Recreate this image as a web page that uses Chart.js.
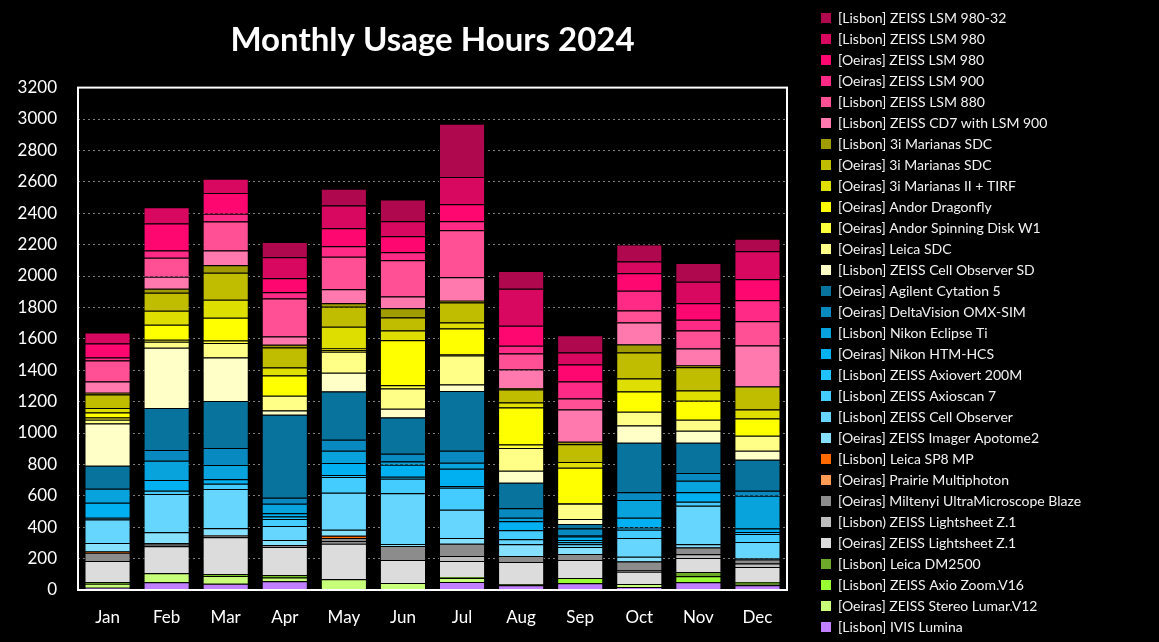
<!DOCTYPE html>
<html lang="en">
<head>
    <meta charset="UTF-8">
    <title>Monthly Usage Hours 2024</title>
    <script src="https://cdn.jsdelivr.net/npm/chart.js"></script>
    <style>
        html, body { margin: 0; padding: 0; background: #000; }
        #wrap { width: 1159px; height: 642px; }
    </style>
</head>
<body>
<div id="wrap"><canvas id="usageChart"></canvas></div>

<script>
    const months = ['Jan', 'Feb', 'Mar', 'Apr', 'May', 'Jun', 'Jul', 'Aug', 'Sep', 'Oct', 'Nov', 'Dec'];

    // hours per month (stack order: top of legend = top of bar)
    const lsm98032Lisbon   = [0, 0, 0, 98, 106, 138, 340, 113, 110, 108, 119, 81];
    const lsm980Lisbon     = [70, 104, 91, 134, 145, 96, 173, 236, 77, 75, 138, 178];
    const lsm980Oeiras     = [89, 172, 132, 89, 115, 102, 108, 128, 108, 111, 105, 134];
    const lsm900Oeiras     = [19, 45, 49, 39, 66, 51, 57, 49, 109, 125, 68, 134];
    const lsm880Lisbon     = [134, 121, 185, 242, 208, 230, 300, 102, 70, 77, 115, 154];
    const cd7Lisbon        = [71, 77, 94, 53, 89, 76, 149, 117, 204, 140, 108, 261];
    const marianasLisbon   = [12, 25, 47, 17, 22, 58, 11, 10, 17, 51, 11, 0];
    const marianasOeiras   = [85, 115, 172, 128, 127, 83, 128, 83, 113, 166, 149, 147];
    const marianas2Oeiras  = [30, 90, 115, 51, 139, 62, 38, 32, 36, 83, 64, 57];
    const dragonflyOeiras  = [32, 95, 145, 128, 10, 287, 164, 236, 225, 128, 121, 109];
    const spinningW1Oeiras = [13, 13, 15, 0, 11, 21, 8, 22, 5, 0, 0, 0];
    const leicaSdcOeiras   = [25, 38, 93, 95, 134, 128, 185, 144, 96, 89, 70, 96];
    const cellObsSdLisbon  = [269, 383, 277, 26, 119, 57, 41, 77, 32, 109, 77, 57];
    const cytationOeiras   = [146, 269, 300, 530, 307, 230, 381, 162, 30, 315, 193, 198];
    const omxSimOeiras     = [0, 68, 108, 38, 70, 49, 76, 61, 40, 49, 49, 32];
    const eclipseLisbon    = [90, 123, 90, 60, 78, 21, 39, 22, 11, 114, 73, 209];
    const htmHcsOeiras     = [95, 68, 29, 21, 77, 77, 110, 57, 21, 62, 61, 21];
    const axiovertLisbon   = [0, 0, 0, 15, 13, 12, 11, 0, 15, 15, 0, 13];
    const axioscanLisbon   = [11, 21, 34, 45, 100, 92, 140, 58, 13, 51, 26, 51];
    const cellObsLisbon    = [149, 243, 249, 89, 236, 326, 179, 32, 17, 121, 245, 102];
    const apotomeOeiras    = [54, 70, 43, 32, 38, 10, 38, 74, 44, 30, 21, 10];
    const sp8MpLisbon      = [8, 0, 0, 0, 13, 0, 0, 0, 0, 0, 0, 0];
    const prairieOeiras    = [0, 0, 0, 0, 0, 0, 0, 0, 0, 0, 0, 0];
    const miltenyiOeiras   = [53, 9, 7, 13, 21, 90, 77, 38, 39, 56, 42, 26];
    const lightsheetLisbon = [0, 10, 8, 0, 17, 0, 32, 0, 0, 8, 24, 21];
    const lightsheetOeiras = [135, 173, 236, 180, 226, 146, 102, 141, 114, 79, 89, 96];
    const dm2500Lisbon     = [0, 0, 0, 0, 0, 0, 0, 0, 0, 0, 28, 0];
    const axioZoomLisbon   = [10, 0, 11, 15, 0, 0, 6, 0, 34, 0, 38, 11];
    const lumarOeiras      = [25, 57, 49, 24, 68, 45, 26, 8, 0, 19, 0, 10];
    const ivisLisbon       = [15, 49, 40, 55, 0, 0, 51, 30, 43, 19, 49, 30];

    const yTicks = [0, 200, 400, 600, 800, 1000, 1200, 1400, 1600, 1800, 2000, 2200, 2400, 2600, 2800, 3000, 3200];

    // bottom of the stack first
    const seriesNames = [
        '[Lisbon] IVIS Lumina',
        '[Oeiras] ZEISS Stereo Lumar.V12',
        '[Lisbon] ZEISS Axio Zoom.V16',
        '[Lisbon] Leica DM2500',
        '[Oeiras] ZEISS Lightsheet Z.1',
        '[Lisbon) ZEISS Lightsheet Z.1',
        '[Oeiras] Miltenyi UltraMicroscope Blaze',
        '[Oeiras] Prairie Multiphoton',
        '[Lisbon] Leica SP8 MP',
        '[Oeiras] ZEISS Imager Apotome2',
        '[Lisbon] ZEISS Cell Observer',
        '[Lisbon] ZEISS Axioscan 7',
        '[Lisbon] ZEISS Axiovert 200M',
        '[Oeiras] Nikon HTM-HCS',
        '[Lisbon] Nikon Eclipse Ti',
        '[Oeiras] DeltaVision OMX-SIM',
        '[Oeiras] Agilent Cytation 5',
        '[Lisbon] ZEISS Cell Observer SD',
        '[Oeiras] Leica SDC',
        '[Oeiras] Andor Spinning Disk W1',
        '[Oeiras] Andor Dragonfly',
        '[Oeiras] 3i Marianas II + TIRF',
        '[Oeiras] 3i Marianas SDC',
        '[Lisbon] 3i Marianas SDC',
        '[Lisbon] ZEISS CD7 with LSM 900',
        '[Lisbon] ZEISS LSM 880',
        '[Oeiras] ZEISS LSM 900',
        '[Oeiras] ZEISS LSM 980',
        '[Lisbon] ZEISS LSM 980',
        '[Lisbon] ZEISS LSM 980-32'
    ];
    const seriesValues = [
        ivisLisbon, lumarOeiras, axioZoomLisbon, dm2500Lisbon, lightsheetOeiras,
        lightsheetLisbon, miltenyiOeiras, prairieOeiras, sp8MpLisbon, apotomeOeiras,
        cellObsLisbon, axioscanLisbon, axiovertLisbon, htmHcsOeiras, eclipseLisbon,
        omxSimOeiras, cytationOeiras, cellObsSdLisbon, leicaSdcOeiras, spinningW1Oeiras,
        dragonflyOeiras, marianas2Oeiras, marianasOeiras, marianasLisbon, cd7Lisbon,
        lsm880Lisbon, lsm900Oeiras, lsm980Oeiras, lsm980Lisbon, lsm98032Lisbon
    ];
    const seriesColors = [
        '#c080ff', '#c8ff7a', '#99ff33', '#6ea82a', '#dcdcdc',
        '#bdbdbd', '#8c8c8c', '#ff9a55', '#ff6a00', '#86e0ff',
        '#66d6ff', '#44ccff', '#1fc2ff', '#00b0f0', '#08a2dc',
        '#0889c0', '#08739c', '#ffffc8', '#ffff88', '#ffff3c',
        '#ffff00', '#dede00', '#c0bc00', '#a09c00', '#ff78ae',
        '#ff5096', '#ff2a85', '#ff0770', '#d80860', '#b0084f'
    ];

    const FONT = 'Lato, "Open Sans", sans-serif';
    const LEGEND_WIDTH = 345;

    // legend keeps a fixed width so long labels run off the right edge like the original
    const fixedLegendWidth = {
        id: 'fixedLegendWidth',
        beforeLayout(chart) {
            const legend = chart.legend;
            if (legend && !legend.patchedFit) {
                const origFit = legend.fit;
                legend.fit = function () {
                    origFit.call(this);
                    this.width = LEGEND_WIDTH;
                };
                legend.patchedFit = true;
            }
        }
    };

    // white frame round the plot area
    const plotFrame = {
        id: 'plotFrame',
        afterDatasetsDraw(chart) {
            const {ctx, chartArea: a} = chart;
            ctx.save();
            ctx.strokeStyle = '#ffffff';
            ctx.lineWidth = 2;
            ctx.strokeRect(a.left, a.top, a.right - a.left, a.bottom - a.top);
            ctx.restore();
        }
    };

    const ctx = document.getElementById('usageChart').getContext('2d');

    const chart = new Chart(ctx, {
        type: 'bar',
        data: {
            labels: months,
            datasets: seriesNames.map((name, i) => ({
                label: name,
                data: seriesValues[i],
                backgroundColor: seriesColors[i],
                borderColor: '#000000',
                borderWidth: 1,
                categoryPercentage: 1,
                barPercentage: 0.78
            }))
        },
        options: {
            responsive: true,
            maintainAspectRatio: false,
            animation: false,
            layout: { padding: { top: 3, left: 0, right: 0, bottom: 0 } },
            scales: {
                x: {
                    stacked: true,
                    grid: { display: false, drawTicks: false },
                    border: { display: false },
                    ticks: { color: '#ffffff', font: { family: FONT, size: 17 }, padding: 17 },
                    afterFit(scale) { scale.height = 52; }
                },
                y: {
                    stacked: true,
                    min: 0,
                    max: 3200,
                    afterBuildTicks(scale) { scale.ticks = yTicks.map(v => ({ value: v })); },
                    grid: { color: '#7f7f7f', lineWidth: 1, drawTicks: false },
                    border: { display: false, dash: [2, 3] },
                    ticks: {
                        color: '#ffffff',
                        font: { family: FONT, size: 17 },
                        padding: 21,
                        callback: value => String(value)
                    },
                    afterFit(scale) { scale.width = 78; }
                },
                yRight: {
                    position: 'right',
                    display: true,
                    grid: { display: false, drawTicks: false },
                    border: { display: false },
                    ticks: { display: false },
                    afterFit(scale) { scale.width = 27; }
                }
            },
            plugins: {
                title: {
                    display: true,
                    text: 'Monthly Usage Hours 2024',
                    color: '#ffffff',
                    fullSize: false,
                    font: { family: FONT, size: 33, weight: 'bold' },
                    padding: { top: 18, bottom: 27 }
                },
                legend: {
                    position: 'right',
                    align: 'center',
                    reverse: true,
                    labels: {
                        color: '#f2f2f2',
                        font: { family: FONT, size: 14 },
                        boxWidth: 10,
                        boxHeight: 10,
                        padding: 7,
                        generateLabels(chart) {
                            return Chart.defaults.plugins.legend.labels.generateLabels(chart)
                                .map(item => ({ ...item, lineWidth: 0, strokeStyle: item.fillStyle }));
                        }
                    }
                },
                tooltip: { enabled: false }
            }
        },
        plugins: [fixedLegendWidth, plotFrame]
    });
</script>

</body>
</html>
